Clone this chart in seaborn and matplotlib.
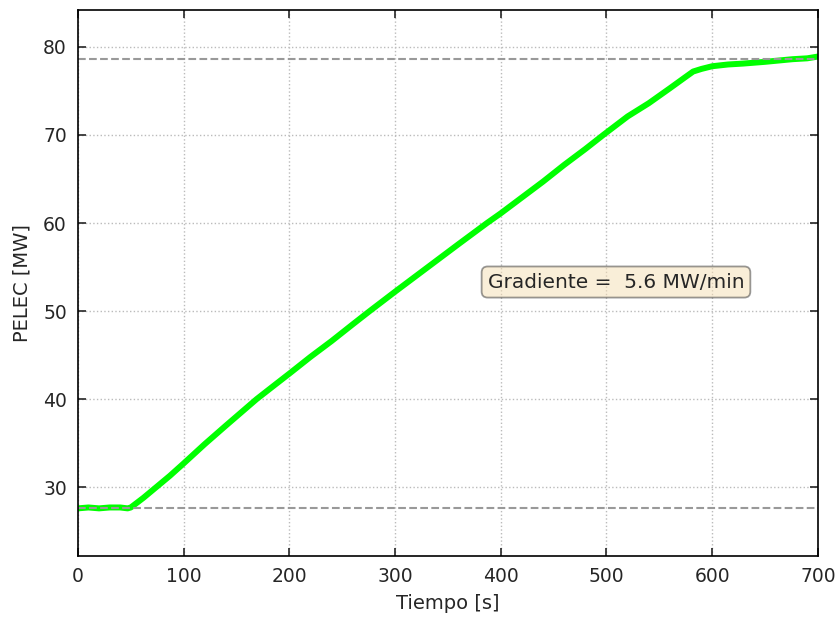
import pandas as pd
import matplotlib
matplotlib.use('Agg')
import matplotlib.pyplot as plt
import seaborn as sns

# ---- datos ----
tiempo = [0, 10, 20, 30, 40, 47, 50, 62, 74, 87, 100, 120, 140, 169, 185, 200,
          220, 240, 260, 276, 300, 320, 340, 360, 387, 400, 420, 440, 460, 480,
          497, 520, 540, 560, 575, 582, 590, 600, 615, 629, 650, 676, 690, 700]
pelec = [27.6, 27.7, 27.6, 27.7, 27.7, 27.6, 27.7, 28.8, 30.0, 31.3, 32.7, 34.9,
         37.0, 40.0, 41.5, 42.9, 44.8, 46.6, 48.5, 50.0, 52.2, 54.0, 55.8, 57.6,
         60.0, 61.1, 62.9, 64.7, 66.6, 68.4, 70.0, 72.1, 73.6, 75.3, 76.6, 77.2,
         77.5, 77.8, 78.0, 78.1, 78.3, 78.6, 78.7, 78.9]
nivel_inicial = 27.6
nivel_final = 78.6
texto_gradiente = 'Gradiente =  5.6 MW/min'

df = pd.DataFrame({'Tiempo': tiempo, 'PELEC': pelec})

sns.set_style('ticks')
plt.rcParams['font.family'] = ['DejaVu Sans']

fig = plt.figure(figsize=(8.38, 6.17), dpi=100)
ax = fig.add_axes([0.093, 0.099, 0.883, 0.885])

sns.lineplot(data=df, x='Tiempo', y='PELEC', ax=ax, color='#00ff00',
             linewidth=4.3, estimator=None)

ax.axhline(nivel_inicial, color='#999999', linestyle='--', linewidth=1.5)
ax.axhline(nivel_final, color='#999999', linestyle='--', linewidth=1.5)

ax.text(509, 53.3, texto_gradiente, ha='center', va='center', fontsize=14.5,
        bbox=dict(boxstyle='round,pad=0.3', facecolor='wheat', alpha=0.5,
                  edgecolor='#333333', linewidth=1.3))

ax.set_xlim(0, 700)
ax.set_ylim(22.2, 84.2)
ax.set_xticks([0, 100, 200, 300, 400, 500, 600, 700])
ax.set_yticks([30, 40, 50, 60, 70, 80])
ax.set_xlabel('Tiempo [s]', fontsize=14, labelpad=6)
ax.set_ylabel('PELEC [MW]', fontsize=14, labelpad=8)
ax.tick_params(direction='in', top=True, right=True, length=6, width=1.2,
               labelsize=13.5, pad=8)
for s in ax.spines.values():
    s.set_visible(True)
    s.set_color('black')
    s.set_linewidth(1.2)
ax.grid(True, linestyle=':', color='#bbbbbb', linewidth=1.0)

fig.savefig('out.png', dpi=100)
